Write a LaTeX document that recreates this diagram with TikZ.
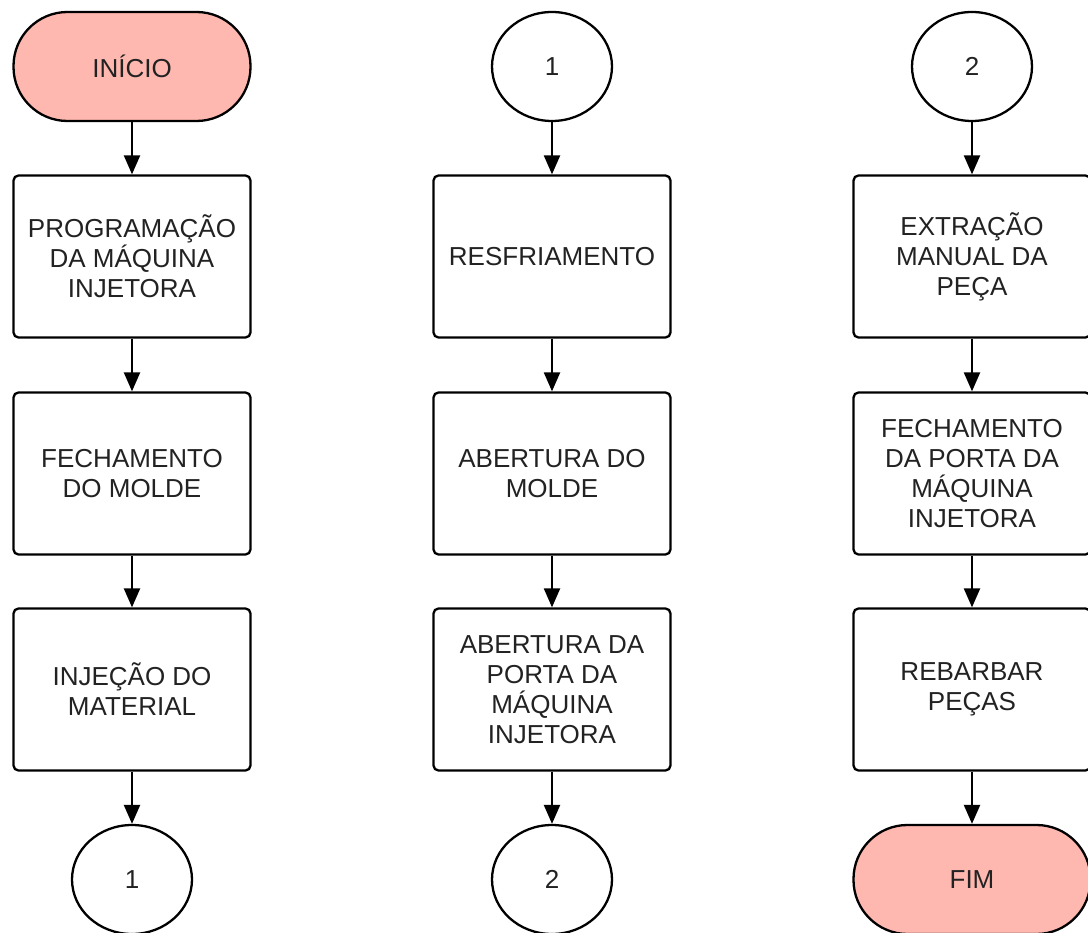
\documentclass[tikz,border=0pt]{standalone}
\usepackage{fontspec}
\setmainfont{Liberation Sans}
\usetikzlibrary{arrows.meta,shapes.geometric}
\definecolor{termfill}{RGB}{255,184,176}
\definecolor{txt}{RGB}{34,34,34}
\begin{document}
\begin{tikzpicture}[x=1pt,y=-1pt,
  every node/.style={font=\fontsize{26}{30}\selectfont, text=txt, align=center, line width=2.3pt, draw=black},
  procbox/.style={rectangle, rounded corners=5pt, minimum width=237pt, minimum height=162pt, inner sep=0pt, fill=white},
  termbox/.style={rectangle, rounded corners=54pt, minimum width=237pt, minimum height=109pt, inner sep=0pt, fill=termfill},
  connbox/.style={ellipse, minimum width=120pt, minimum height=109pt, inner sep=0pt, fill=white},
  flow/.style={line width=2.3pt, -{Triangle[length=19pt,width=16pt]}}]
\useasboundingbox (0,0) rectangle (1088,933);
% column 1
\node[termbox] (ini) at (132,66.5) {INÍCIO};
\node[procbox] (a1) at (132,256.5) {PROGRAMAÇÃO\\DA MÁQUINA\\INJETORA};
\node[procbox] (a2) at (132,473.5) {FECHAMENTO\\DO MOLDE};
\node[procbox] (a3) at (132,689.5) {INJEÇÃO DO\\MATERIAL};
\node[connbox] (c1a) at (132,879.5) {1};
% column 2
\node[connbox] (c1b) at (552,66.5) {1};
\node[procbox] (b1) at (552,256.5) {RESFRIAMENTO};
\node[procbox] (b2) at (552,473.5) {ABERTURA DO\\MOLDE};
\node[procbox] (b3) at (552,689.5) {ABERTURA DA\\PORTA DA\\MÁQUINA\\INJETORA};
\node[connbox] (c2a) at (552,879.5) {2};
% column 3
\node[connbox] (c2b) at (972,66.5) {2};
\node[procbox] (d1) at (972,256.5) {EXTRAÇÃO\\MANUAL DA\\PEÇA};
\node[procbox] (d2) at (972,473.5) {FECHAMENTO\\DA PORTA DA\\MÁQUINA\\INJETORA};
\node[procbox] (d3) at (972,689.5) {REBARBAR\\PEÇAS};
\node[termbox] (fim) at (972,879.5) {FIM};
% connectors
\draw[flow] (ini.south) -- (a1.north);
\draw[flow] (a1.south) -- (a2.north);
\draw[flow] (a2.south) -- (a3.north);
\draw[flow] (a3.south) -- (c1a.north);
\draw[flow] (c1b.south) -- (b1.north);
\draw[flow] (b1.south) -- (b2.north);
\draw[flow] (b2.south) -- (b3.north);
\draw[flow] (b3.south) -- (c2a.north);
\draw[flow] (c2b.south) -- (d1.north);
\draw[flow] (d1.south) -- (d2.north);
\draw[flow] (d2.south) -- (d3.north);
\draw[flow] (d3.south) -- (fim.north);
\end{tikzpicture}
\end{document}
